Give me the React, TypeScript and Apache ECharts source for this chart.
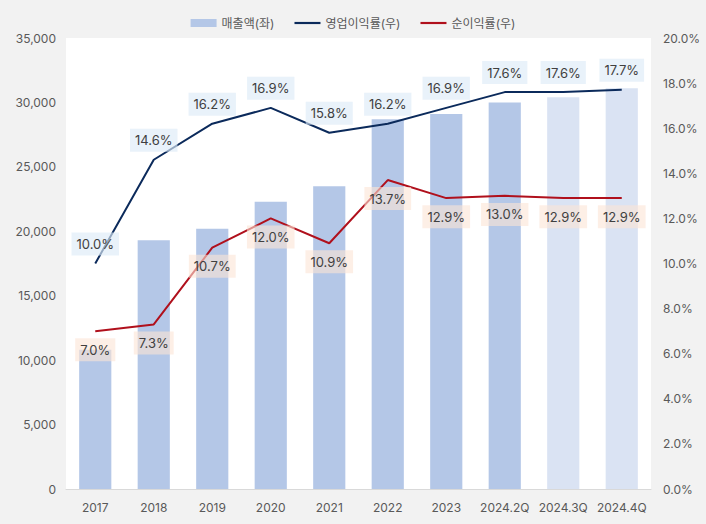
import React, { useEffect, useRef } from "react";
import * as echarts from "echarts";

const categories = ["2017", "2018", "2019", "2020", "2021", "2022", "2023", "2024.2Q", "2024.3Q", "2024.4Q"];
const revenue = [10800, 19300, 20200, 22300, 23500, 28700, 29100, 30000, 30400, 31100];
const opMargin = [10.0, 14.6, 16.2, 16.9, 15.8, 16.2, 16.9, 17.6, 17.6, 17.7];
const netMargin = [7.0, 7.3, 10.7, 12.0, 10.9, 13.7, 12.9, 13.0, 12.9, 12.9];
const forecastFrom = 8;

const FONT = "Inter, 'Noto Sans CJK KR', sans-serif";
const LINE_ICON = "path://M0,0 H24 V2 H0 Z";
const BLUE = "#0b2a5b";
const RED = "#b0101c";

export default function App() {
  const ref = useRef<HTMLDivElement>(null);
  useEffect(() => {
    document.body.style.margin = "0";
    const chart = echarts.init(ref.current!, null, { renderer: "svg" });
    chart.setOption({
      animation: false,
      backgroundColor: "#f2f2f2",
      textStyle: { fontFamily: FONT },
      legend: {
        top: 12,
        left: "center",
        itemWidth: 26,
        itemHeight: 8,
        itemGap: 20,
        textStyle: { color: "#595959", fontSize: 12, fontFamily: FONT },
        data: [
          { name: "매출액(좌)", icon: "rect", itemStyle: { color: "#b4c7e7" } },
          { name: "영업이익률(우)", icon: LINE_ICON, itemStyle: { color: BLUE, opacity: 1 } },
          { name: "순이익률(우)", icon: LINE_ICON, itemStyle: { color: RED, opacity: 1 } },
        ],
      },
      grid: {
        left: 66,
        right: 55,
        top: 38,
        bottom: 35,
        show: true,
        backgroundColor: "#ffffff",
        borderWidth: 0,
      },
      xAxis: {
        type: "category",
        data: categories,
        axisTick: { show: false },
        axisLine: { lineStyle: { color: "#d9d9d9" } },
        axisLabel: { color: "#595959", fontSize: 12, margin: 12, interval: 0, fontFamily: FONT },
      },
      yAxis: [
        {
          type: "value",
          min: 0,
          max: 35000,
          interval: 5000,
          splitLine: { show: false },
          axisLabel: {
            color: "#595959",
            fontSize: 12,
            margin: 10,
            fontFamily: FONT,
            formatter: (v: number) => v.toLocaleString("en-US"),
          },
        },
        {
          type: "value",
          min: 0,
          max: 20,
          interval: 2,
          splitLine: { show: false },
          axisLabel: {
            color: "#595959",
            fontSize: 12,
            margin: 12,
            fontFamily: FONT,
            formatter: (v: number) => v.toFixed(1) + "%",
          },
        },
      ],
      series: [
        {
          name: "매출액(좌)",
          type: "bar",
          barWidth: "55%",
          itemStyle: { color: "#b4c7e7" },
          data: revenue.map((v, i) =>
            i >= forecastFrom ? { value: v, itemStyle: { color: "#dae3f3" } } : v
          ),
        },
        {
          name: "영업이익률(우)",
          type: "line",
          yAxisIndex: 1,
          symbol: "circle",
          symbolSize: 0.1,
          showSymbol: true,
          lineStyle: { color: BLUE, width: 2 },
          itemStyle: { color: BLUE },
          data: opMargin,
          label: {
            show: true,
            position: "top",
            distance: 8,
            color: "#404040",
            fontSize: 13,
            fontFamily: FONT,
            backgroundColor: "rgba(221,235,247,0.65)",
            padding: [5, 5],
            formatter: (p: any) => p.value.toFixed(1) + "%",
          },
        },
        {
          name: "순이익률(우)",
          type: "line",
          yAxisIndex: 1,
          symbol: "circle",
          symbolSize: 0.1,
          showSymbol: true,
          lineStyle: { color: RED, width: 2 },
          itemStyle: { color: RED },
          data: netMargin,
          label: {
            show: true,
            position: "bottom",
            distance: 7,
            color: "#404040",
            fontSize: 13,
            fontFamily: FONT,
            backgroundColor: "rgba(251,229,214,0.6)",
            padding: [5, 5],
            formatter: (p: any) => p.value.toFixed(1) + "%",
          },
        },
      ],
    });
    return () => chart.dispose();
  }, []);
  return <div ref={ref} style={{ width: 706, height: 524 }} />;
}
